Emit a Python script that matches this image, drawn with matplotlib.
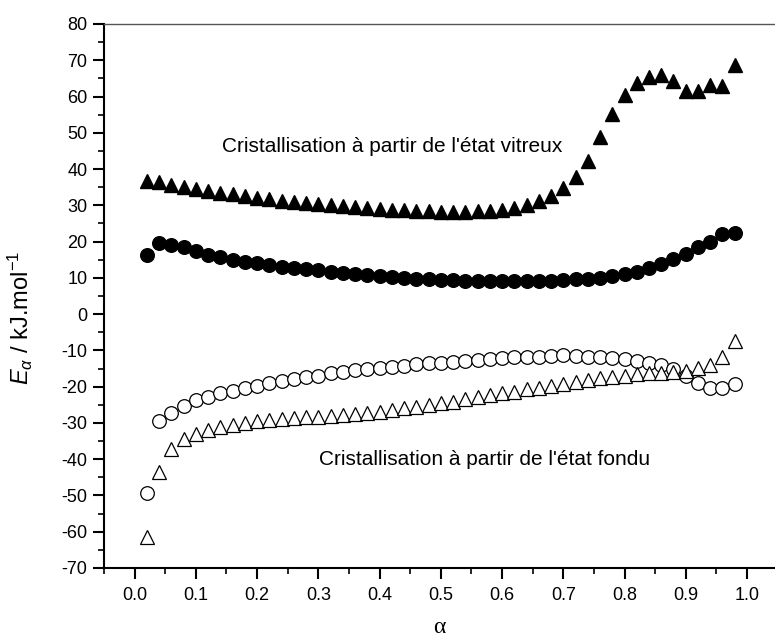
import matplotlib
matplotlib.use("Agg")
import matplotlib.pyplot as plt
import numpy as np
from matplotlib.ticker import MultipleLocator

plt.rcParams['font.family'] = ['Liberation Sans', 'DejaVu Sans']
plt.rcParams['mathtext.fontset'] = 'custom'
plt.rcParams['mathtext.rm'] = 'Liberation Sans'
plt.rcParams['mathtext.it'] = 'Liberation Sans:italic'
plt.rcParams['axes.unicode_minus'] = False

# conversion degree
alpha = [0.02, 0.04, 0.06, 0.08, 0.10, 0.12, 0.14, 0.16, 0.18, 0.20,
         0.22, 0.24, 0.26, 0.28, 0.30, 0.32, 0.34, 0.36, 0.38, 0.40,
         0.42, 0.44, 0.46, 0.48, 0.50, 0.52, 0.54, 0.56, 0.58, 0.60,
         0.62, 0.64, 0.66, 0.68, 0.70, 0.72, 0.74, 0.76, 0.78, 0.80,
         0.82, 0.84, 0.86, 0.88, 0.90, 0.92, 0.94, 0.96, 0.98]

# glassy state, filled triangles
vitreux_tri = [36.7, 36.4, 35.5, 35.0, 34.5, 34.0, 33.5, 33.0, 32.5, 32.1,
               31.7, 31.3, 31.0, 30.7, 30.4, 30.1, 29.8, 29.5, 29.2, 29.0,
               28.8, 28.6, 28.4, 28.3, 28.2, 28.2, 28.2, 28.3, 28.5, 28.8,
               29.4, 30.1, 31.2, 32.7, 34.7, 37.9, 42.3, 48.9, 55.2, 60.4,
               63.8, 65.5, 65.9, 64.4, 61.6, 61.6, 63.2, 62.9, 68.8]

# glassy state, filled circles
vitreux_circ = [16.3, 19.7, 19.1, 18.4, 17.5, 16.3, 15.7, 15.0, 14.4, 14.0,
                13.6, 13.1, 12.7, 12.5, 12.2, 11.7, 11.4, 11.1, 10.8, 10.5,
                10.3, 10.05, 9.8, 9.6, 9.4, 9.3, 9.2, 9.1, 9.0, 9.0,
                9.0, 9.0, 9.1, 9.2, 9.4, 9.6, 9.8, 10.1, 10.5, 11.1,
                11.7, 12.6, 13.7, 15.1, 16.5, 18.4, 20.0, 22.1, 22.5]

# molten state, open circles
fondu_circ = [-49.4, -29.6, -27.2, -25.3, -23.7, -22.8, -21.8, -21.1, -20.3, -19.7,
              -19.1, -18.4, -17.9, -17.4, -17.0, -16.3, -15.9, -15.4, -15.1, -14.8,
              -14.5, -14.2, -13.7, -13.5, -13.4, -13.1, -12.8, -12.6, -12.4, -12.0,
              -11.9, -11.7, -11.7, -11.5, -11.4, -11.5, -11.7, -11.9, -12.0, -12.5,
              -12.8, -13.4, -14.0, -15.2, -17.0, -19.1, -20.3, -20.3, -19.3]

# molten state, open triangles
fondu_tri = [-61.5, -43.4, -37.3, -34.5, -33.0, -31.9, -31.0, -30.6, -30.1, -29.6,
             -29.2, -28.9, -28.7, -28.4, -28.3, -28.1, -27.8, -27.6, -27.3, -26.9,
             -26.4, -26.0, -25.5, -25.0, -24.6, -24.1, -23.5, -22.9, -22.3, -21.8,
             -21.4, -20.7, -20.3, -19.8, -19.3, -18.6, -18.2, -17.7, -17.2, -17.0,
             -16.6, -16.3, -16.1, -15.9, -15.6, -14.9, -14.0, -11.7, -7.3]

fig = plt.figure(figsize=(7.75, 6.41), dpi=100)
ax = fig.add_axes([104 / 775, 1 - 568 / 641, 1 - 104 / 775, (568 - 24) / 641])

ax.plot(alpha, vitreux_tri, '^', color='black', markersize=10.5, clip_on=False)
ax.plot(alpha, vitreux_circ, 'o', color='black', markersize=9.8, clip_on=False)
ax.plot(alpha, fondu_circ, 'o', mfc='white', mec='black', mew=0.9,
        markersize=9.8, clip_on=False)
ax.plot(alpha, fondu_tri, '^', mfc='white', mec='black', mew=0.9,
        markersize=10.5, clip_on=False)

ax.set_xlim(-0.05, (775 - 135) / 612)
ax.set_ylim(-70, 80)
ax.xaxis.set_minor_locator(MultipleLocator(0.05))
ax.yaxis.set_major_locator(MultipleLocator(10))
ax.yaxis.set_minor_locator(MultipleLocator(5))
ax.set_xticks(np.arange(0, 1.01, 0.1))
ax.set_xticklabels([f"{v:.1f}" for v in np.arange(0, 1.01, 0.1)])

ax.tick_params(which='major', direction='out', length=8, width=1.5, labelsize=13)
ax.tick_params(which='minor', direction='out', length=4, width=1.2)
ax.tick_params(axis='x', pad=6)
ax.tick_params(axis='y', pad=4)
ax.spines['right'].set_visible(False)
ax.spines['top'].set_color('#555555')
ax.spines['top'].set_linewidth(1.0)
ax.spines['left'].set_linewidth(1.5)
ax.spines['bottom'].set_linewidth(1.5)

ax.set_ylabel(r'$E_{\alpha}$ / kJ.mol$^{-1}$', fontsize=17)
ax.yaxis.set_label_coords(-0.103, 0.46)
ax.set_xlabel('α', fontsize=17, family=['Liberation Serif', 'DejaVu Serif'], labelpad=9)

ax.text(0.42, 46.1, "Cristallisation à partir de l'état vitreux", fontsize=15,
        ha='center', va='center')
ax.text(0.572, -40.0, "Cristallisation à partir de l'état fondu", fontsize=15,
        ha='center', va='center')

fig.savefig('out.png', dpi=100)
